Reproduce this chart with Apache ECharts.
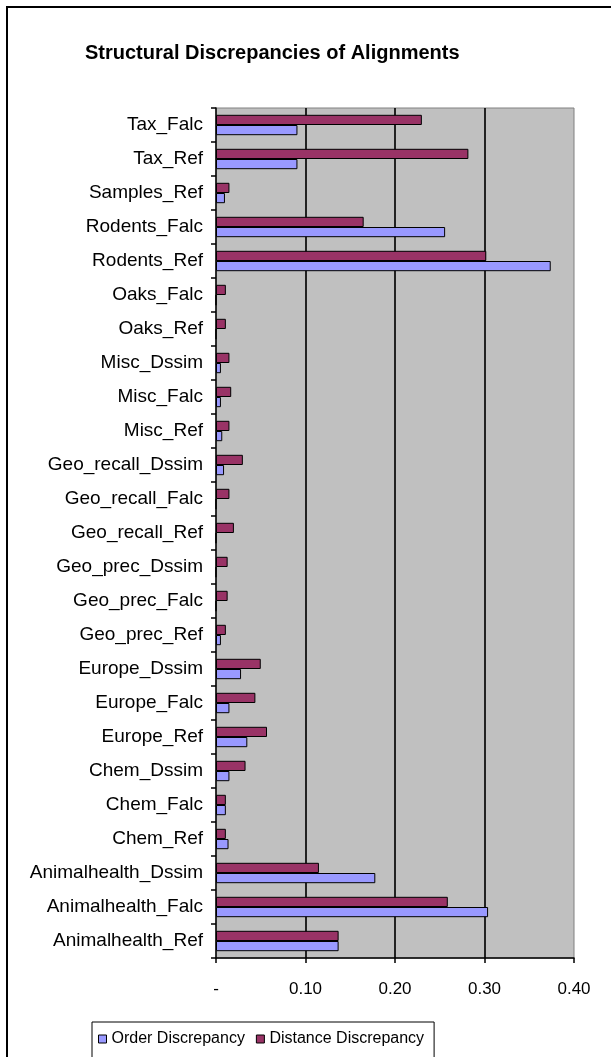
<!DOCTYPE html>
<html>
<head>
<meta charset="utf-8">
<script src="https://cdn.jsdelivr.net/npm/echarts@6/dist/echarts.min.js"></script>
<style>
html,body{margin:0;padding:0;background:#fff;}
#chart{width:611px;height:1057px;}
</style>
</head>
<body>
<div id="chart"></div>
<script>
const categories = ["Animalhealth_Ref","Animalhealth_Falc","Animalhealth_Dssim","Chem_Ref","Chem_Falc","Chem_Dssim","Europe_Ref","Europe_Falc","Europe_Dssim","Geo_prec_Ref","Geo_prec_Falc","Geo_prec_Dssim","Geo_recall_Ref","Geo_recall_Falc","Geo_recall_Dssim","Misc_Ref","Misc_Falc","Misc_Dssim","Oaks_Ref","Oaks_Falc","Rodents_Ref","Rodents_Falc","Samples_Ref","Tax_Ref","Tax_Falc"];
const orderDiscrepancy = [0.137,0.304,0.178,0.014,0.011,0.015,0.035,0.015,0.028,0.0055,0,0,0,0,0.009,0.007,0.0055,0.0055,0,0,0.374,0.256,0.010,0.091,0.091];
const distanceDiscrepancy = [0.137,0.259,0.115,0.011,0.011,0.033,0.057,0.044,0.050,0.011,0.013,0.013,0.020,0.015,0.030,0.015,0.017,0.015,0.011,0.011,0.302,0.165,0.015,0.282,0.230];
const seriesNames = ["Order Discrepancy","Distance Discrepancy"];
const xTickLabels = {0:"-",0.1:"0.10",0.2:"0.20",0.3:"0.30",0.4:"0.40"};

const FONT = '"Liberation Sans", Arial, sans-serif';
const chart = echarts.init(document.getElementById('chart'));
chart.setOption({
  animation: false,
  backgroundColor: '#ffffff',
  title: {
    text: 'Structural Discrepancies of Alignments',
    left: 80, top: 38,
    textStyle: {fontFamily: FONT, fontSize: 20, fontWeight: 'bold', color: '#000'}
  },
  graphic: [{
    type: 'rect', shape: {x: 7, y: 7, width: 800, height: 1200},
    style: {fill: null, stroke: '#000', lineWidth: 2}, silent: true
  }],
  legend: {
    data: seriesNames,
    left: 92, top: 1022,
    orient: 'horizontal',
    itemWidth: 8, itemHeight: 8, itemGap: 11,
    icon: 'rect',
    padding: [9, 10, 12, 6],
    borderColor: '#000', borderWidth: 1,
    backgroundColor: '#fff',
    textStyle: {fontFamily: FONT, fontSize: 16, color: '#000'},
    itemStyle: {borderColor: '#000', borderWidth: 1}
  },
  grid: {
    left: 216, right: 37, top: 108, bottom: 99,
    show: true, backgroundColor: '#C0C0C0', borderColor: '#808080', borderWidth: 1
  },
  xAxis: {
    type: 'value', min: 0, max: 0.4, interval: 0.1,
    axisLine: {show: true, onZero: false, lineStyle: {color: '#000', width: 1.5}},
    axisTick: {show: true, length: 5, lineStyle: {color: '#000', width: 1.5}},
    splitLine: {show: true, showMinLine: false, showMaxLine: false, lineStyle: {color: '#111', width: 1.8}},
    axisLabel: {
      margin: 23, fontFamily: FONT, fontSize: 17, color: '#000',
      formatter: v => xTickLabels[Math.round(v*10)/10] || ''
    }
  },
  yAxis: {
    type: 'category', data: categories,
    axisLine: {show: true, lineStyle: {color: '#000', width: 1.5}},
    axisTick: {show: true, length: 5, lineStyle: {color: '#000', width: 1.5}},
    axisLabel: {margin: 13, fontFamily: FONT, fontSize: 19, color: '#000'},
    splitLine: {show: false}
  },
  series: [
    {
      name: seriesNames[1], type: 'bar', data: distanceDiscrepancy,
      barGap: '0%', barCategoryGap: '40%',
      itemStyle: {color: '#993366', borderColor: '#000', borderWidth: 1}
    },
    {
      name: seriesNames[0], type: 'bar', data: orderDiscrepancy,
      barGap: '0%', barCategoryGap: '40%',
      itemStyle: {color: '#9999FF', borderColor: '#000', borderWidth: 1}
    }
  ]
});
</script>
</body>
</html>
